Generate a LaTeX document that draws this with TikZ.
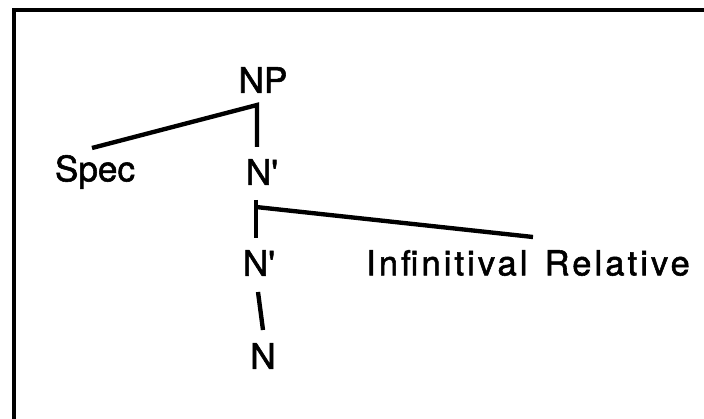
\documentclass[tikz,border=0pt]{standalone}
\usepackage{fontspec}
\setmainfont[FakeBold=1.6,AutoFakeBold=1.6]{TeX Gyre Heros}
\newfontfamily\widefont[LetterSpace=9,FakeBold=1.6]{TeX Gyre Heros}
\usetikzlibrary{positioning}

\begin{document}
\begin{tikzpicture}[
    x=0.025cm, y=-0.025cm,
    cat/.style={font=\fontsize{25}{29}\selectfont\bfseries, inner sep=2pt},
    widecat/.style={font=\widefont\fontsize{24.5}{28}\selectfont, inner sep=2pt},
    branch/.style={line width=3.1pt},
    frame/.style={line width=3.4pt},
  ]
  \useasboundingbox (0,0) rectangle (704,419);
  \draw[frame] (14,440) -- (14,10) -- (720,10);

  % categories
  \node[cat] (np) at (263,80) {NP};
  \node[cat] (spec) at (95,172) {Spec};
  \node[cat] (nbar1) at (262,172) {N\textquotesingle};
  \node[cat] (nbar2) at (259,263) {N\textquotesingle};
  \node[widecat] (infrel) at (528,263) {Infinitival\hspace{0.5em}Relative};
  \node[cat] (n) at (263,356) {N};

  % branch ends
  \coordinate (np-foot) at (257,105);
  \coordinate (spec-top) at (92,148);
  \coordinate (nbar1-top) at (257,147);
  \coordinate (nbar1-foot) at (256,200);
  \coordinate (nbar1-joint) at (256,207);
  \coordinate (nbar2-top) at (256,238);
  \coordinate (infrel-top) at (533,237);
  \coordinate (nbar2-foot) at (258,292);
  \coordinate (n-top) at (263,330);

  \draw[branch] (spec-top) -- (np-foot) -- (nbar1-top);
  \draw[branch] (nbar1-foot) -- (nbar2-top);
  \draw[branch] (nbar1-joint) -- (infrel-top);
  \draw[branch] (nbar2-foot) -- (n-top);
\end{tikzpicture}
\end{document}
